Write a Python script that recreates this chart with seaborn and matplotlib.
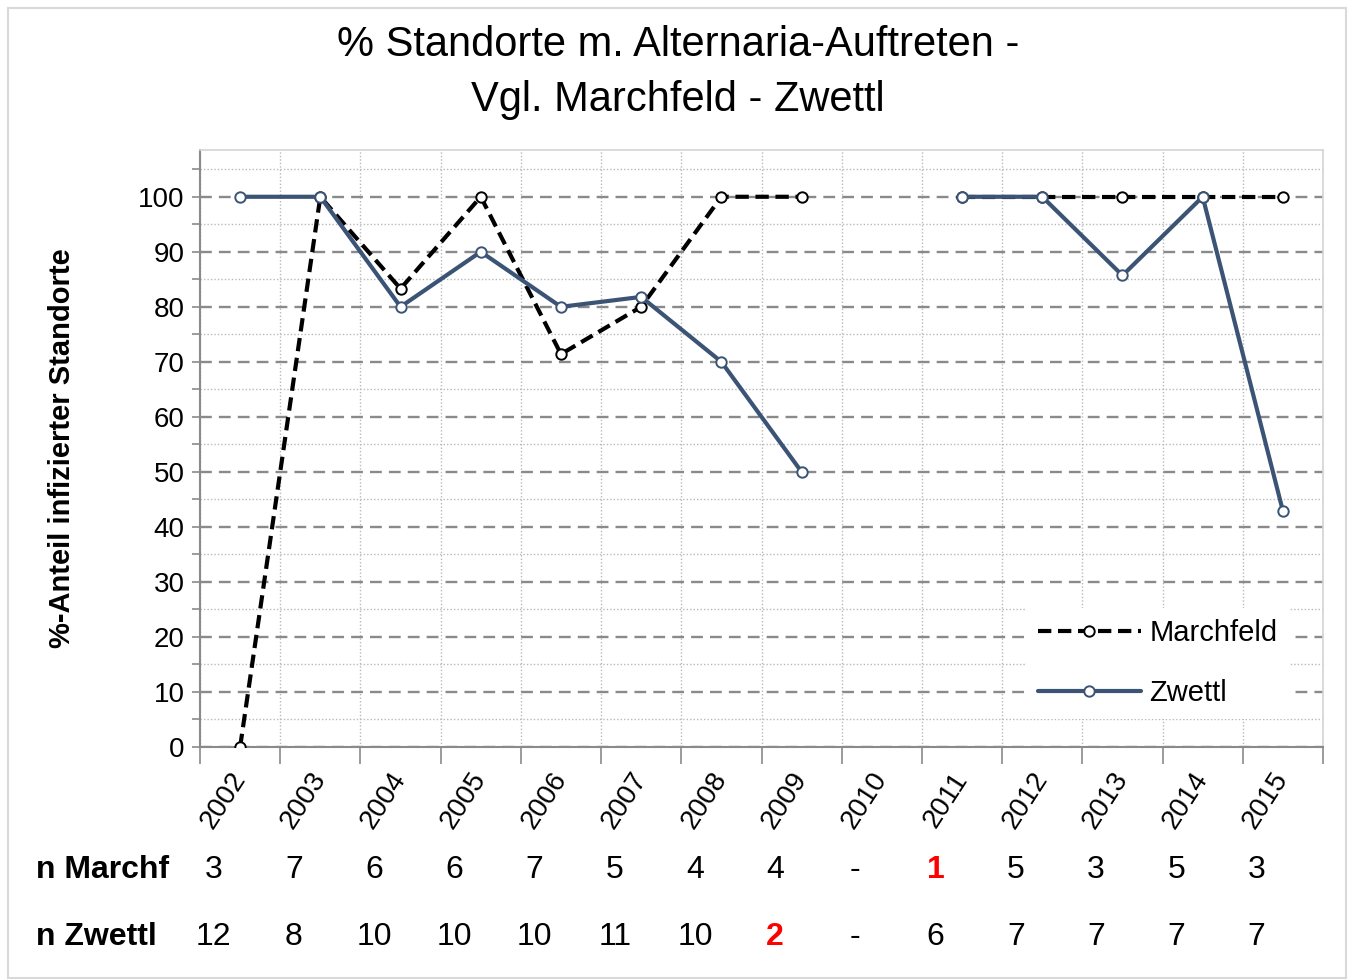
import numpy as np
import pandas as pd
import matplotlib
matplotlib.use('Agg')
import matplotlib.pyplot as plt
import matplotlib.transforms as mtransforms
from matplotlib.ticker import MultipleLocator, FixedLocator
from matplotlib.patches import Rectangle
import seaborn as sns

# ----------- data -----------
years = [2002, 2003, 2004, 2005, 2006, 2007, 2008, 2009, 2010, 2011, 2012, 2013, 2014, 2015]
marchfeld = [0, 100, 83.3, 100, 71.4, 80, 100, 100, np.nan, 100, 100, 100, 100, 100]
zwettl = [100, 100, 80, 90, 80, 81.8, 70, 50, np.nan, 100, 100, 85.7, 100, 42.9]
n_marchf = ['3', '7', '6', '6', '7', '5', '4', '4', '-', '1', '5', '3', '5', '3']
n_zwettl = ['12', '8', '10', '10', '10', '11', '10', '2', '-', '6', '7', '7', '7', '7']
flag_marchf = [2011]   # counts shown in red
flag_zwettl = [2009]

# ----------- style -----------
sns.set_theme(style='white')
plt.rcParams['font.family'] = ['Liberation Sans Narrow', 'Liberation Sans', 'DejaVu Sans']
for key in ['text.color', 'axes.labelcolor', 'xtick.color', 'ytick.color']:
    plt.rcParams[key] = 'black'

navy = '#3b5476'
grid_dark = '#8a8a8a'
grid_light = '#b9b9b9'


def long_form(values, name):
    d = pd.DataFrame({'pos': np.arange(len(years)), 'val': values})
    d['seg'] = np.cumsum(d['val'].isna())   # break line at missing years
    d['region'] = name
    return d.dropna()


df_m = long_form(marchfeld, 'Marchfeld')
df_z = long_form(zwettl, 'Zwettl')

fig = plt.figure(figsize=(13.48, 9.8), dpi=100)
ax = fig.add_axes([200 / 1348, 1 - 747 / 980, 1123 / 1348, 597 / 980])

sns.lineplot(data=df_m, x='pos', y='val', units='seg', estimator=None, ax=ax,
             color='black', lw=3.0, linestyle=(0, (3.2, 1.6)),
             marker='o', markersize=7.5, markerfacecolor='white',
             markeredgecolor='black', markeredgewidth=1.4, label='Marchfeld', zorder=3)
sns.lineplot(data=df_z, x='pos', y='val', units='seg', estimator=None, ax=ax,
             color=navy, lw=3.0, marker='o', markersize=7.5, markerfacecolor='white',
             markeredgecolor=navy, markeredgewidth=1.4, label='Zwettl', zorder=4)

# axes limits / ticks
ax.set_xlim(-0.5, len(years) - 0.5)
ax.set_ylim(0, 108.5)
ax.yaxis.set_major_locator(MultipleLocator(10))
ax.yaxis.set_minor_locator(MultipleLocator(5))
ax.set_yticks(np.arange(0, 101, 10))

ax.xaxis.set_major_locator(FixedLocator(np.arange(-0.5, len(years), 1)))
ax.set_xticklabels([])
ax.set_xticks(np.arange(len(years)), minor=True)
ax.set_xticklabels([str(y) for y in years], minor=True, rotation=57,
                   ha='right', va='center', rotation_mode='anchor', fontsize=20)

ax.tick_params(axis='x', which='major', direction='out', length=12, width=1.2,
               color=grid_dark, bottom=True)
ax.tick_params(axis='x', which='minor', length=0, pad=20, bottom=True)
ax.tick_params(axis='y', which='both', direction='out', length=6, width=1.2,
               color=grid_dark, left=True, labelsize=20, pad=5)

# gridlines
ax.set_axisbelow(True)
ax.grid(which='major', axis='y', linestyle=(0, (5, 3)), color=grid_dark, lw=1.7)
ax.grid(which='minor', axis='y', linestyle=(0, (1, 1.5)), color=grid_light, lw=1.0)
ax.grid(which='major', axis='x', linestyle=(0, (1, 1.5)), color=grid_light, lw=1.0)

for side in ['left', 'bottom']:
    ax.spines[side].set_color(grid_dark)
    ax.spines[side].set_linewidth(1.5)
for side in ['top', 'right']:
    ax.spines[side].set_color('#d4d4d4')
    ax.spines[side].set_linewidth(1.2)

ax.set_xlabel('')
ax.set_ylabel('%-Anteil infizierter Standorte', fontsize=21, fontweight='bold',
              labelpad=45)

# legend (deduplicate the per-segment labels)
handles, labels = ax.get_legend_handles_labels()
uniq = dict(zip(labels, handles))
leg = ax.legend(uniq.values(), uniq.keys(), loc='center',
                bbox_to_anchor=(0.735, 0.042, 0.236, 0.196), frameon=True,
                facecolor='white', edgecolor='none', framealpha=1, fancybox=False,
                fontsize=21, handlelength=3.5, labelspacing=1.1, handletextpad=0.3,
                borderpad=0.4)

# title
fig.text(0.503, 1 - 45 / 980, '% Standorte m. Alternaria-Auftreten -', ha='center',
         va='center', fontsize=30)
fig.text(0.503, 1 - 100 / 980, 'Vgl. Marchfeld - Zwettl', ha='center',
         va='center', fontsize=30)

# sample size rows under the axis
trans = mtransforms.blended_transform_factory(ax.transData, ax.transAxes)
rows = [('n Marchf', n_marchf, flag_marchf, (747 - 870) / 597),
        ('n Zwettl', n_zwettl, flag_zwettl, (747 - 937) / 597)]
for label, counts, flags, yy in rows:
    fig.text(36 / 1348, 1 - (747 - yy * 597) / 980, label, ha='left', va='center',
             fontsize=23, fontweight='bold')
    for i, c in enumerate(counts):
        ax.text(i - 0.33, yy, c, transform=trans, ha='center', va='center',
                fontsize=23, color='red' if years[i] in flags else 'black',
                fontweight='bold' if years[i] in flags else 'normal')

# chart area border
fig.patches.append(Rectangle((8 / 1348, 0.002), 1 - 10 / 1348, 1 - 10 / 980,
                             transform=fig.transFigure, fill=False,
                             edgecolor='#d9d9d9', lw=1.5))

fig.savefig('out.png', dpi=100)
